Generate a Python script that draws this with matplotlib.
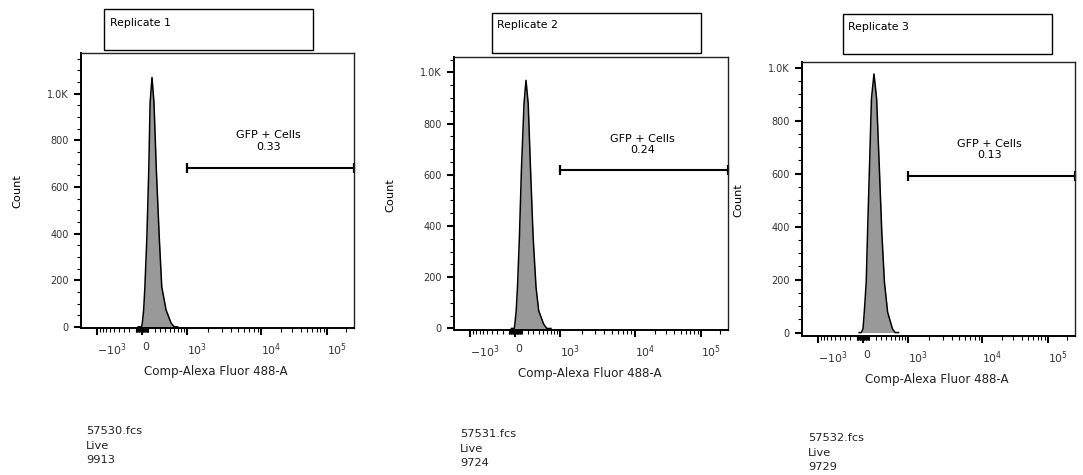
import numpy as np
import matplotlib
matplotlib.use('Agg')
import matplotlib.pyplot as plt
from matplotlib.patches import Rectangle

# values
replicates = ['Replicate 1', 'Replicate 2', 'Replicate 3']
fcs_files = ['57530.fcs', '57531.fcs', '57532.fcs']
gate_name = 'Live'
event_counts = ['9913', '9724', '9729']
gfp_pct = ['0.33', '0.24', '0.13']
gate_level = [682, 617, 592]
gate_lo = 1000
gate_hi = 262144

hist1_x = [-60, -5, 5, 26, 45, 76, 106, 127, 158, 191, 231, 283, 330, 416, 527, 608, 700]
hist1_y = [0, 0, 17, 73, 172, 386, 674, 961, 1070, 961, 674, 386, 172, 73, 17, 0, 0]
hist2_x = [-60, -15, -5, 15, 35, 65, 96, 138, 170, 207, 248, 294, 349, 402, 509, 588, 700]
hist2_y = [0, 0, 18, 70, 161, 357, 617, 878, 969, 878, 617, 357, 161, 70, 18, 0, 0]
hist3_x = [-60, -26, 0, 20, 50, 71, 102, 133, 174, 219, 265, 312, 363, 429, 539, 606, 700]
hist3_y = [0, 0, 14, 77, 190, 378, 630, 882, 976, 882, 630, 378, 190, 77, 14, 0, 0]
hists = [(hist1_x, hist1_y), (hist2_x, hist2_y), (hist3_x, hist3_y)]

y_top = [1175, 1060, 1021]
y_bot = [-5, -6, -13]

# biexponential-like x axis, pinned to the tick positions in the picture
C = 450.0
anc_x = np.array([-1e3, 0, 1e3, 1e4, 1e5])
anc_p = np.array([-44.7, 0, 44.7, 119.0, 184.7])
anc_u = np.arcsinh(anc_x / C)
slope = (anc_p[4] - anc_p[3]) / (anc_u[4] - anc_u[3])
u_lo, u_hi = np.arcsinh(-1e9 / C), np.arcsinh(1e9 / C)
U = np.concatenate([[u_lo], anc_u, [u_hi]])
P = np.concatenate([[anc_p[0] - slope * (anc_u[0] - u_lo)], anc_p,
                    [anc_p[-1] + slope * (u_hi - anc_u[-1])]])


def fwd(x):
    return np.interp(np.arcsinh(np.asarray(x, float) / C), U, P)


def inv(p):
    return C * np.sinh(np.interp(np.asarray(p, float), P, U))


major_x = [-1e3, 0, 1e3, 1e4, 1e5]
major_lbl = [r'$-10^3$', '0', r'$10^3$', r'$10^4$', r'$10^5$']
minor_x = []
for k in range(1, 10):
    minor_x += [-100 * k, -10 * k, 10 * k, 100 * k]
for k in range(2, 10):
    minor_x += [k * 1e3, k * 1e4]
minor_x += [2e5]

W, H = 1083, 475
axes_px = [(81, 53, 354, 328), (454, 57, 728, 330), (802, 62, 1075, 336)]
box_px = [(104, 9, 313, 50), (492, 13, 701, 53), (843, 14, 1052, 54)]
rep_txt_px = [(110, 23), (497, 25), (848, 27)]
ylab_px = [(17, 191), (390, 195), (738, 200)]
xlab_px = [(216, 372), (590, 374), (937, 380)]
foot_px = [(86, 431), (460, 434), (808, 438)]

fig = plt.figure(figsize=(W / 100, H / 100), dpi=100)
fx = lambda x: x / W
fy = lambda y: 1 - y / H

for i in range(3):
    l, t, r, b = axes_px[i]
    ax = fig.add_axes([fx(l), fy(b), (r - l) / W, (b - t) / H])
    hx, hy = hists[i]
    ax.fill_between(hx, hy, 0, color='#999999', lw=0)
    ax.plot(hx, hy, color='black', lw=1.1)
    ax.set_xscale('function', functions=(fwd, inv))
    ax.set_xlim(inv(-61), inv(212))
    ax.set_ylim(y_bot[i], y_top[i])

    ax.set_xticks(major_x)
    ax.set_xticklabels(major_lbl)
    ax.set_xticks(minor_x, minor=True)
    for lab in ax.get_xticklabels():
        lab.set_ha('left')
    ax.set_yticks([0, 200, 400, 600, 800, 1000])
    ax.set_yticklabels(['0', '200', '400', '600', '800', '1.0K'])
    ax.set_yticks(np.arange(50, y_top[i], 50), minor=True)
    ax.tick_params(which='major', length=5, width=1.5, labelsize=7,
                   labelcolor='#333333', pad=4)
    ax.tick_params(which='minor', length=2.8, width=0.8)
    ax.tick_params(axis='x', which='major', labelsize=7.8, pad=5)
    for s in ['left', 'bottom']:
        ax.spines[s].set_linewidth(1.4)
    for s in ['top', 'right']:
        ax.spines[s].set_linewidth(1.0)
        ax.spines[s].set_color('#222222')

    # gate bar
    ax.plot([gate_lo, gate_hi], [gate_level[i]] * 2, color='black', lw=1.5,
            clip_on=False)
    ax.plot([gate_lo, gate_hi], [gate_level[i]] * 2, ls='none', marker='|',
            ms=7.5, mew=1.6, color='black', clip_on=False)
    ax.text(0.688, 0.68, 'GFP + Cells\n' + gfp_pct[i], transform=ax.transAxes,
            ha='center', va='center', fontsize=8, linespacing=1.2)

    x0, y0, x1, y1 = box_px[i]
    fig.add_artist(Rectangle((fx(x0), fy(y1)), (x1 - x0) / W, (y1 - y0) / H,
                             transform=fig.transFigure, fill=False,
                             edgecolor='black', lw=1.0))
    tx, ty = rep_txt_px[i]
    fig.text(fx(tx), fy(ty), replicates[i], ha='left', va='center', fontsize=7.8)

    lx, ly = ylab_px[i]
    fig.text(fx(lx), fy(ly), 'Count', rotation=90, ha='center', va='center',
             fontsize=8.2)
    lx, ly = xlab_px[i]
    fig.text(fx(lx), fy(ly), 'Comp-Alexa Fluor 488-A', ha='center',
             va='center', fontsize=8.6, color='#222222')

    lx, ly = foot_px[i]
    for j, s in enumerate([fcs_files[i], gate_name, event_counts[i]]):
        fig.text(fx(lx), fy(ly + 14.6 * j), s, ha='left', va='center',
                 fontsize=8.2, color='#222222')

fig.savefig('out.png', dpi=100)
